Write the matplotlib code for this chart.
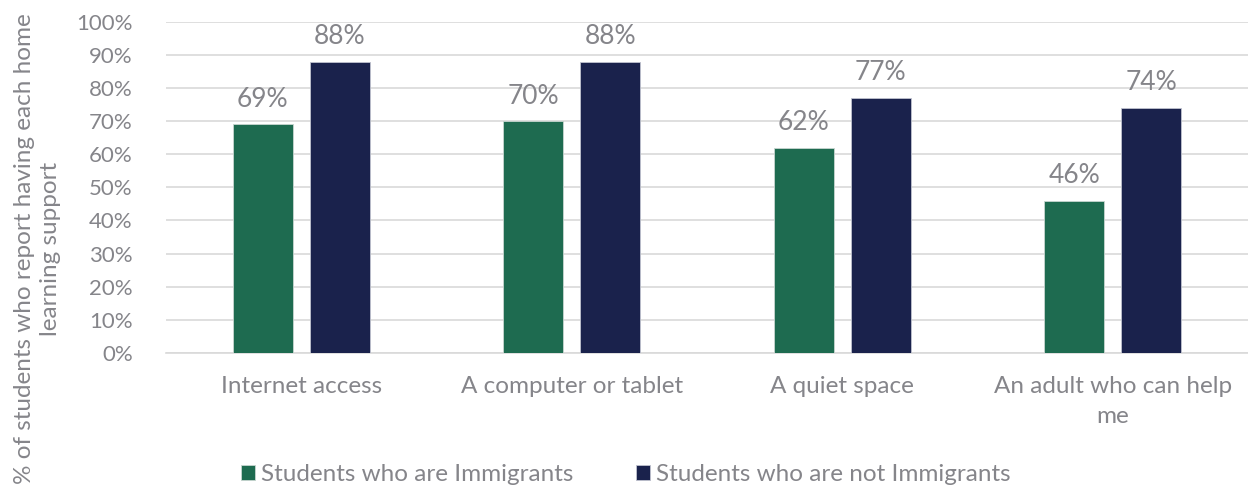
import matplotlib
matplotlib.use("Agg")
import matplotlib.pyplot as plt
import numpy as np

categories = ["Internet access", "A computer or tablet", "A quiet space", "An adult who can help\nme"]
immigrants = [69, 70, 62, 46]
not_immigrants = [88, 88, 77, 74]
series_names = ["Students who are Immigrants", "Students who are not Immigrants"]
yticks = list(range(0, 101, 10))

green = "#1e6b50"
navy = "#1a224c"
txt = "#85858a"

plt.rcParams['font.family'] = ['Lato', 'DejaVu Sans']

fig = plt.figure(figsize=(12.48, 4.97), dpi=100)
ax = fig.add_axes([0.133, 0.29, 0.867, 0.666])

x = np.arange(len(categories))
w = 0.222
off = 0.142
b1 = ax.bar(x - off, immigrants, w, color=green, edgecolor="#c8d6d0", linewidth=0.6, label=series_names[0], zorder=3)
b2 = ax.bar(x + off, not_immigrants, w, color=navy, edgecolor="#c0c3cf", linewidth=0.6, label=series_names[1], zorder=3)

for bars, vals in [(b1, immigrants), (b2, not_immigrants)]:
	for r, v in zip(bars, vals):
		ax.annotate(f"{v}%", (r.get_x() + r.get_width() / 2, v), xytext=(0, 9), textcoords="offset points",
					ha="center", va="bottom", fontsize=19, color=txt)

ax.set_xlim(-0.5, len(categories) - 0.5)
ax.set_ylim(0, 100)
ax.set_yticks(yticks)
ax.set_yticklabels([f"{t}%" for t in yticks])
ax.set_xticks(x)
ax.set_xticklabels(categories, fontsize=17.5, linespacing=1.5)
ax.grid(axis="y", color="#d9d9d9", linewidth=1.2, zorder=0)
for s in ["top", "right", "left"]:
	ax.spines[s].set_visible(False)
ax.spines["bottom"].set_color("#d9d9d9")
ax.spines["bottom"].set_linewidth(1.2)
ax.tick_params(axis="y", length=0, labelsize=16, labelcolor=txt, pad=24)
ax.tick_params(axis="x", length=0, labelcolor=txt, pad=17)

fig.text(0.03, 0.5, "% of students who report having each home\nlearning support", rotation=90,
		 ha="center", va="center", fontsize=17.5, color=txt, linespacing=1.25)

ax.legend(loc="upper center", bbox_to_anchor=(0.425, -0.27), ncol=2, frameon=False, fontsize=17.5,
		  labelcolor=txt, handlelength=0.55, handleheight=0.55, handletextpad=0.25, columnspacing=2.6)

fig.savefig("out.png", dpi=100)
